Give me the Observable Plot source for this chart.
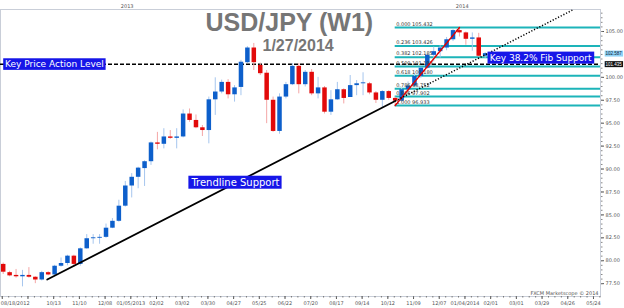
<!DOCTYPE html>
<html><head><meta charset="utf-8">
<script src="https://cdn.jsdelivr.net/npm/d3@7"></script>
<script src="https://cdn.jsdelivr.net/npm/@observablehq/plot@0.6"></script>
<style>html,body{margin:0;padding:0;background:#fff;}svg{display:block;}</style>
</head><body><div id="chart"></div>
<script>
// ---- data (weekly USD/JPY candles) ----
const firstWeek = "2012-08-19";
const opens  = [79.60,78.70,78.40,78.25,78.40,78.20,77.90,78.70,78.45,79.40,79.70,80.50,79.60,81.30,82.40,82.45,82.55,83.55,84.30,85.95,88.15,89.10,90.05,90.80,92.85,92.70,93.50,93.35,93.50,96.00,95.30,94.50,94.20,97.55,98.40,99.45,98.10,98.90,101.60,103.20,101.30,100.45,97.50,94.10,97.85,99.20,101.20,99.20,100.55,98.20,98.85,96.20,97.55,98.65,97.80,99.10,99.30,99.30,98.30,97.50,98.45,97.70,97.40,98.65,99.05,100.10,101.00,102.40,102.80,103.20,104.10,105.10,104.85,104.15,104.30,102.30];
const highs  = [79.75,78.85,79.05,78.95,79.25,78.25,78.85,78.80,79.50,80.30,80.60,80.60,81.40,82.85,82.85,82.85,84.00,84.60,86.60,88.65,89.50,90.20,90.90,92.95,94.00,94.40,94.20,94.40,96.45,96.55,95.90,94.75,97.85,99.95,99.70,99.75,99.10,101.85,103.35,103.70,101.55,100.75,97.85,98.20,99.45,101.50,101.50,100.75,100.85,100.00,99.00,98.55,99.45,98.75,100.20,99.65,100.50,99.45,98.45,98.55,98.55,97.85,98.80,99.50,100.30,101.10,102.55,103.30,103.45,104.35,105.20,105.432,104.95,104.85,104.80,102.70];
const lows   = [78.50,78.25,78.10,77.15,78.10,77.50,77.80,78.35,78.40,79.30,79.45,79.30,79.40,81.25,81.80,81.80,82.45,83.50,84.20,85.85,86.85,87.85,88.10,90.40,92.10,92.20,93.25,92.20,93.40,95.10,94.40,93.55,92.75,95.85,98.20,97.65,97.30,98.00,101.50,100.75,100.20,94.95,94.00,93.80,97.65,99.10,98.20,98.95,98.00,97.65,96.00,95.85,97.50,97.10,97.80,98.00,98.00,98.10,97.15,96.60,97.50,96.933,97.30,98.30,98.90,99.90,100.90,101.70,102.10,102.90,103.90,104.40,103.50,102.85,102.20,102.05];
const closes = [78.75,78.35,78.25,78.40,78.20,77.90,78.70,78.45,79.40,79.70,80.50,79.60,81.30,82.40,82.50,82.55,83.55,84.30,85.95,88.15,89.10,90.10,90.80,92.85,92.70,93.50,93.35,93.50,96.00,95.30,94.50,94.20,97.55,98.40,99.45,98.10,98.85,101.65,103.20,101.60,100.40,97.50,94.10,97.85,99.20,101.20,99.20,100.55,98.20,98.85,96.20,97.55,98.65,97.70,99.10,99.30,99.40,98.30,97.50,98.45,97.70,97.40,98.65,99.05,100.10,101.00,102.40,102.80,103.20,104.10,105.10,104.85,104.15,104.30,102.30,102.587];

const tickDates  = ["2012-08-18","2012-09-15","2012-10-13","2012-11-10","2012-12-08","2013-01-05","2013-02-02","2013-03-02","2013-03-30","2013-04-27","2013-05-25","2013-06-22","2013-07-20","2013-08-17","2013-09-14","2013-10-12","2013-11-09","2013-12-07","2014-01-04","2014-02-01","2014-03-01","2014-03-29","2014-04-26","2014-05-24"];
const tickLabels = ["08/18/2012","","10/13","11/10","12/08","01/05/2013","02/02","03/02","03/30","04/27","05/25","06/22","07/20","08/17","09/14","10/12","11/09","12/07","01/04/2014","02/01","03/01","03/29","04/26","05/24"];
const yearTicks  = ["2013-01-01","2014-01-01"];
const yTicks     = [77.5,80,82.5,85,87.5,90,92.5,95,97.5,100,105];

const fibRatios = ["0.000","0.236","0.382","0.500","0.618","0.786","0.886","1.000"];
const fibLevels = [105.432,103.426,102.185,101.183,100.180,98.752,97.902,96.933];
const fibStart  = "2013-10-20";
const fibLegDates  = ["2013-10-20","2013-12-29"];
const fibLegValues = [96.933,105.432];

const keyLevel  = 101.435;
const lastPrice = 102.587;

const trendSolidDates  = ["2012-10-06","2013-10-20"];
const trendSolidValues = [77.95,97.42];
const trendDotDates    = ["2013-10-20","2014-05-01"];
const trendDotValues   = [97.42,107.33];

const titleText = "USD/JPY (W1)";
const dateText  = "1/27/2014";
const keyLevelText = "Key Price Action Level";
const fibSupportText = "Key 38.2% Fib Support";
const fibSupportPos = {date: "2014-01-31", value: 102.14};
const trendText = "Trendline Support";
const trendTextPos = {date: "2013-03-12", value: 88.53};
const creditText = "FXCM Marketscope \u00a9 2014";

// ---- build tables ----
const P = s => new Date(s + "T00:00:00Z");
const start = P(firstWeek);
const candles = opens.map((o, i) => ({
  date: d3.utcWeek.offset(start, i), open: o, high: highs[i], low: lows[i], close: closes[i],
  up: closes[i] >= o
}));
const labelMap = new Map(tickDates.map((d, i) => [+P(d), tickLabels[i]]));
const fib = fibLevels.map((v, i) => ({level: v, label: `${fibRatios[i]} ${v.toFixed(3)}`}));
const xDomain = [new Date("2012-08-16T01:30:00Z"), new Date("2014-05-31T15:40:00Z")];
const weekly = d3.utcSaturday.range(P("2012-08-18"), xDomain[1]);
const yMinor = d3.range(77.5, 107.01, 0.5);

const BLUE = "#0d5fcb", RED = "#e20a0a", BLUE_W = "#a6c6ee", RED_W = "#f4a6a6", TEAL = "#1db4b9";

const chart = Plot.plot({
  width: 624, height: 308,
  marginLeft: 0, marginRight: 24, marginTop: 9, marginBottom: 12,
  style: {fontFamily: "DejaVu Sans", background: "#fff", overflow: "visible"},
  x: {type: "utc", domain: xDomain},
  y: {domain: [76.1, 107.4]},
  marks: [
    Plot.frame({stroke: "#c9ced8"}),
    Plot.axisX({anchor: "bottom", ticks: tickDates.map(P), tickFormat: d => labelMap.get(+d) ?? "", tickSize: 3, tickPadding: 2, fontSize: 5, color: "#555", label: null}),
    Plot.axisX({anchor: "bottom", ticks: weekly, tickFormat: () => "", tickSize: 1.5, color: "#777", label: null}),
    Plot.axisX({anchor: "top", ticks: yearTicks.map(P), tickFormat: d => String(d.getUTCFullYear()), tickSize: 0, tickPadding: 2, fontSize: 5, color: "#555", label: null}),
    Plot.axisY({anchor: "right", ticks: yTicks, tickFormat: d => d.toFixed(2), tickSize: 3, tickPadding: 2, fontSize: 5, color: "#555", label: null}),
    Plot.axisY({anchor: "right", ticks: yMinor, tickFormat: () => "", tickSize: 1.5, color: "#888", label: null}),
    // fib levels
    Plot.ruleY(fib, {y: "level", x1: () => P(fibStart), x2: () => xDomain[1], stroke: TEAL, strokeWidth: 2}),
    // key level
    Plot.ruleY([keyLevel], {stroke: "#000", strokeWidth: 1.6, strokeDasharray: "4,2"}),
    // candles
    Plot.ruleX(candles, {x: "date", y1: "low", y2: "high", stroke: d => d.up ? BLUE_W : RED_W, strokeWidth: 1}),
    Plot.ruleX(candles, {x: "date", y1: "open", y2: "close", stroke: d => d.up ? BLUE : RED, strokeWidth: 4.5}),
    // fib labels
    Plot.text(fib, {x: () => P(fibStart), y: "level", text: "label", dx: 1, dy: -3.5, textAnchor: "start", fontSize: 5, fill: "#333"}),
    // fib leg
    Plot.line(fibLegDates.map((d, i) => ({date: P(d), v: fibLegValues[i]})), {x: "date", y: "v", stroke: "#e00000", strokeWidth: 1.5, strokeDasharray: "2.5,1.2"}),
    // trendline
    Plot.line(trendSolidDates.map((d, i) => ({date: P(d), v: trendSolidValues[i]})), {x: "date", y: "v", stroke: "#000", strokeWidth: 1.8}),
    Plot.line(trendDotDates.map((d, i) => ({date: P(d), v: trendDotValues[i]})), {x: "date", y: "v", stroke: "#000", strokeWidth: 1.5, strokeDasharray: "1.2,1.8", strokeLinecap: "butt"}),
    // titles
    Plot.text([titleText], {frameAnchor: "top-left", text: d => d, dx: 205, dy: 4, lineAnchor: "top", textAnchor: "start", fontSize: 25, fontWeight: "bold", fill: "#767676", fontFamily: "Liberation Sans"}),
    Plot.text([dateText], {frameAnchor: "top-left", text: d => d, dx: 262, dy: 30, lineAnchor: "top", textAnchor: "start", fontSize: 16, fontWeight: "bold", fill: "#767676", fontFamily: "Liberation Sans"}),
    // annotations
    Plot.text([keyLevelText], {x: () => xDomain[0], y: () => keyLevel, text: d => d, dx: 4.5, textAnchor: "start", fontSize: 9, fill: "#fff"}),
    Plot.text([fibSupportText], {x: () => P(fibSupportPos.date), y: () => fibSupportPos.value, text: d => d, textAnchor: "start", fontSize: 9, fill: "#fff"}),
    Plot.text([trendText], {x: () => P(trendTextPos.date), y: () => trendTextPos.value, text: d => d, textAnchor: "start", fontSize: 10, fill: "#fff"}),
    Plot.text([lastPrice], {x: () => xDomain[1], y: d => d, text: d => d.toFixed(3), dx: 5, textAnchor: "start", fontSize: 4.5, fill: "#123", fontFamily: "Liberation Sans"}),
    Plot.text([keyLevel], {x: () => xDomain[1], y: d => d, text: d => d.toFixed(3), dx: 5, textAnchor: "start", fontSize: 4.5, fill: "#fff", fontFamily: "Liberation Sans"}),
    Plot.text([creditText], {frameAnchor: "bottom-right", text: d => d, dx: -2, dy: -2, textAnchor: "end", lineAnchor: "bottom", fontSize: 5, fill: "#555"})
  ]
});
document.getElementById("chart").append(chart);

// label boxes behind annotation texts
const boxes = new Map([
  [keyLevelText, {fill: "#1616e8", px: 1.8, py: 0.8}],
  [fibSupportText, {fill: "#1616e8", px: 2.2, py: 1}],
  [trendText, {fill: "#1616e8", px: 2, py: 1}],
  [lastPrice.toFixed(3), {fill: "#8fd3f7", px: 0.8, py: 0.5}],
  [keyLevel.toFixed(3), {fill: "#111", px: 0.8, py: 0.5}]
]);
chart.querySelectorAll("text").forEach(t => {
  const txt = t.textContent;
  if (txt === tickLabels[0]) { t.setAttribute("text-anchor", "start"); t.setAttribute("dx", "-1.5"); }
  const spec = boxes.get(txt);
  if (!spec) return;
  const b = t.getBBox();
  const r = document.createElementNS("http://www.w3.org/2000/svg", "rect");
  r.setAttribute("x", b.x - spec.px);
  r.setAttribute("y", b.y - spec.py);
  r.setAttribute("width", b.width + 2 * spec.px);
  r.setAttribute("height", b.height + 2 * spec.py);
  r.setAttribute("fill", spec.fill);
  const tr = t.getAttribute("transform");
  if (tr) r.setAttribute("transform", tr);
  t.parentNode.insertBefore(r, t);
});
</script>
</body></html>
